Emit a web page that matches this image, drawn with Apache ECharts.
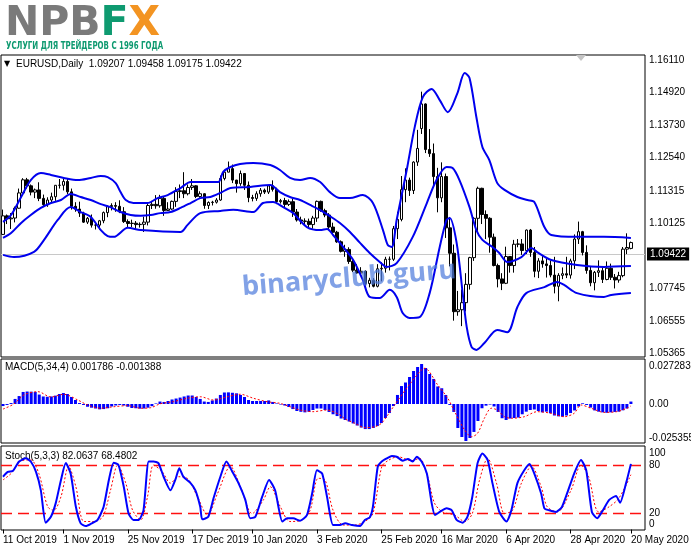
<!DOCTYPE html>
<html><head><meta charset="utf-8">
<script src="https://cdn.jsdelivr.net/npm/echarts@6.0.0/dist/echarts.min.js"></script>
<style>html,body{margin:0;padding:0;background:#fff;overflow:hidden}#chart{width:691px;height:549px}</style>
</head><body><div id="chart"></div>
<script>
// ---------- DATA ----------
const opens = [1.0972,1.1040,1.1029,1.1032,1.1068,1.1124,1.1172,1.1150,1.1127,1.1135,
1.1104,1.1081,1.1098,1.1110,1.1152,1.1152,1.1166,1.1128,1.1075,1.1065,
1.1050,1.1017,1.1031,1.1006,1.1006,1.1022,1.1052,1.1074,1.1078,1.1075,
1.1055,1.1019,1.1012,1.1013,1.1008,1.1009,1.1017,1.1078,1.1082,1.1077,
1.1104,1.1060,1.1065,1.1093,1.1129,1.1132,1.1121,1.1144,1.1150,1.1111,
1.1121,1.1078,1.1089,1.1090,1.1098,1.1177,1.1200,1.1213,1.1171,1.1158,
1.1195,1.1152,1.1107,1.1104,1.1121,1.1134,1.1127,1.1150,1.1137,1.1092,
1.1096,1.1082,1.1092,1.1054,1.1025,1.1021,1.1020,1.1008,1.1032,1.1093,
1.1059,1.1043,1.0999,1.0980,1.0945,1.0910,1.0917,1.0873,1.0841,1.0831,
1.0837,1.0792,1.0804,1.0782,1.0846,1.0848,1.0881,1.0881,1.0993,1.1027,
1.1136,1.1171,1.1133,1.1237,1.1360,1.1450,1.1283,1.1268,1.1184,1.1106,
1.1184,1.0996,1.0903,1.0689,1.0696,1.0722,1.0789,1.0887,1.1031,1.1141,
1.1045,1.1031,1.0962,1.0858,1.0809,1.0793,1.0891,1.0858,1.0936,1.0937,
1.0913,1.0988,1.0906,1.0837,1.0875,1.0864,1.0858,1.0823,1.0782,1.0822,
1.0828,1.0823,1.0875,1.0955,1.0982,1.0906,1.0840,1.0795,1.0833,1.0839,
1.0807,1.0848,1.0815,1.0805,1.0821,1.0918,1.09207];
const highs = [1.1063,1.1045,1.1050,1.1074,1.1140,1.1178,1.1179,1.1155,1.1140,1.1163,
1.1118,1.1108,1.1125,1.1153,1.1175,1.1176,1.1175,1.1140,1.1090,1.1092,
1.1055,1.1036,1.1045,1.1017,1.1025,1.1056,1.1078,1.1086,1.1090,1.1097,
1.1072,1.1027,1.1026,1.1021,1.1016,1.1037,1.1090,1.1095,1.1116,1.1117,
1.1110,1.1090,1.1096,1.1145,1.1155,1.1200,1.1155,1.1175,1.1152,1.1130,
1.1123,1.1093,1.1095,1.1105,1.1188,1.1205,1.1239,1.1228,1.1172,1.1206,
1.1197,1.1166,1.1117,1.1130,1.1142,1.1140,1.1154,1.1170,1.1143,1.1102,
1.1106,1.1100,1.1102,1.1065,1.1037,1.1031,1.1030,1.1040,1.1096,1.1096,
1.1066,1.1050,1.1015,1.0985,1.0950,1.0934,1.0925,1.0882,1.0863,1.0852,
1.0840,1.0813,1.0812,1.0863,1.0870,1.0890,1.0891,1.1003,1.1055,1.1186,
1.1214,1.1180,1.1240,1.1355,1.1495,1.1452,1.1358,1.1305,1.1216,1.1236,
1.1195,1.1036,1.0935,1.0765,1.0770,1.0830,1.0890,1.1035,1.1147,1.1143,
1.1060,1.1035,1.0975,1.0865,1.0830,1.0927,1.0893,1.0952,1.0955,1.0955,
1.0990,1.0992,1.0926,1.0885,1.0895,1.0885,1.0877,1.0890,1.0830,1.0851,
1.0890,1.0883,1.0972,1.1019,1.0985,1.0932,1.0855,1.0838,1.0877,1.0851,
1.0873,1.0865,1.0827,1.0835,1.0926,1.0976,1.09458];
const lows = [1.0970,1.1010,1.0992,1.1016,1.1066,1.1120,1.1140,1.1115,1.1105,1.1094,
1.1072,1.1073,1.1086,1.1095,1.1140,1.1133,1.1120,1.1063,1.1055,1.1036,
1.1014,1.1010,1.0997,1.0990,1.0989,1.1013,1.1035,1.1060,1.1055,1.1050,
1.1014,1.0998,1.0999,1.0990,1.0997,1.0981,1.1005,1.1065,1.1066,1.1070,
1.1040,1.1058,1.1062,1.1073,1.1105,1.1105,1.1115,1.1135,1.1105,1.1106,
1.1066,1.1065,1.1078,1.1085,1.1095,1.1170,1.1200,1.1160,1.1125,1.1150,
1.1135,1.1090,1.1093,1.1095,1.1110,1.1120,1.1120,1.1129,1.1083,1.1085,
1.1070,1.1076,1.1036,1.1019,1.1009,1.1005,1.0992,1.0993,1.1018,1.1055,
1.1035,1.0990,1.0970,1.0941,1.0906,1.0890,1.0864,1.0834,1.0828,1.0822,
1.0785,1.0778,1.0778,1.0778,1.0800,1.0832,1.0840,1.0875,1.0955,1.1020,
1.1090,1.1113,1.1120,1.1223,1.1340,1.1270,1.1256,1.1150,1.1053,1.1090,
1.0959,1.0855,1.0656,1.0674,1.0636,1.0690,1.0770,1.0875,1.0985,1.1010,
1.0955,1.0905,1.0855,1.0778,1.0768,1.0790,1.0832,1.0832,1.0925,1.0897,
1.0900,1.0890,1.0815,1.0812,1.0850,1.0814,1.0815,1.0756,1.0727,1.0808,
1.0812,1.0810,1.0845,1.0937,1.0895,1.0828,1.0782,1.0767,1.0816,1.0794,
1.0804,1.0805,1.0774,1.0795,1.0815,1.0900,1.09175];
const closes = [1.1040,1.1029,1.1032,1.1068,1.1124,1.1172,1.1150,1.1127,1.1135,1.1104,
1.1081,1.1098,1.1110,1.1152,1.1152,1.1166,1.1128,1.1075,1.1065,1.1050,
1.1017,1.1031,1.1006,1.1006,1.1022,1.1052,1.1074,1.1078,1.1075,1.1055,
1.1019,1.1012,1.1013,1.1008,1.1009,1.1017,1.1078,1.1082,1.1077,1.1104,
1.1060,1.1065,1.1093,1.1129,1.1132,1.1121,1.1144,1.1150,1.1111,1.1121,
1.1078,1.1089,1.1090,1.1098,1.1177,1.1200,1.1213,1.1171,1.1158,1.1195,
1.1152,1.1107,1.1104,1.1121,1.1134,1.1127,1.1150,1.1137,1.1092,1.1096,
1.1082,1.1092,1.1054,1.1025,1.1021,1.1020,1.1008,1.1032,1.1093,1.1059,
1.1043,1.0999,1.0980,1.0945,1.0910,1.0917,1.0873,1.0841,1.0831,1.0837,
1.0792,1.0804,1.0782,1.0846,1.0848,1.0881,1.0881,1.0993,1.1027,1.1136,
1.1171,1.1133,1.1237,1.1287,1.1450,1.1283,1.1268,1.1184,1.1106,1.1184,
1.0996,1.0903,1.0689,1.0696,1.0722,1.0789,1.0887,1.1031,1.1141,1.1045,
1.1031,1.0962,1.0858,1.0809,1.0793,1.0891,1.0858,1.0936,1.0937,1.0913,
1.0988,1.0906,1.0837,1.0875,1.0864,1.0858,1.0823,1.0782,1.0822,1.0828,
1.0823,1.0875,1.0955,1.0982,1.0906,1.0840,1.0795,1.0833,1.0839,1.0807,
1.0848,1.0815,1.0805,1.0821,1.0918,1.0924,1.09422];

// Bollinger bands read at points along the curves: [bar index, price]
const bbUpper = [[0,1.1018],[2,1.1043],[4.5,1.1109],[6.9,1.1171],[9.4,1.1197],[11.9,1.1190],[15.1,1.1179],[18.6,1.1171],[21.8,1.1179],[24.3,1.1186],[26,1.1182],[28,1.1160],[29.2,1.1127],[30.5,1.1098],[32.4,1.1087],[35.9,1.1087],[38.4,1.1105],[40.9,1.1116],[44.1,1.1142],[46.6,1.1164],[49,1.1164],[51.5,1.1164],[53.5,1.1164],[54.7,1.1201],[56.5,1.1219],[58.9,1.1230],[62.2,1.1234],[66.4,1.1226],[68.8,1.1208],[71.3,1.1179],[73.8,1.1171],[76.3,1.1179],[78.8,1.1164],[81.2,1.1127],[83.7,1.1105],[86.2,1.1105],[89.4,1.1116],[91.9,1.1087],[94.4,1.0988],[95.6,1.0933],[96.6,1.0926],[97.8,1.1025],[100.3,1.1208],[102.3,1.1366],[104.3,1.1475],[106.5,1.1505],[108.5,1.1464],[110.5,1.1420],[112.9,1.1490],[114.7,1.1563],[115.9,1.1545],[117.6,1.1402],[119.1,1.1292],[120.8,1.1245],[122.8,1.1160],[124.6,1.1135],[127.8,1.1109],[130.3,1.1098],[132,1.1091],[134.5,1.0999],[136.2,1.0970],[142.6,1.0963],[149.3,1.0963],[156,1.0959]];
const bbMiddle = [[0,1.0959],[2,1.0977],[4.5,1.1014],[6.9,1.1043],[9.4,1.1069],[11.9,1.1087],[14.4,1.1098],[16.8,1.1120],[19.3,1.1109],[21.8,1.1098],[24.3,1.1083],[26.7,1.1072],[29.2,1.1054],[31.7,1.1043],[34.2,1.1040],[36.7,1.1043],[39.1,1.1050],[41.6,1.1054],[44.1,1.1069],[46.6,1.1087],[49,1.1105],[51.5,1.1109],[54,1.1124],[56.5,1.1142],[61.4,1.1146],[66.4,1.1153],[68.8,1.1127],[71.3,1.1109],[73.8,1.1098],[76.3,1.1080],[78.8,1.1061],[81.2,1.1039],[83.7,1.1014],[86.2,1.0981],[88.7,1.0941],[91.1,1.0904],[93.6,1.0871],[95.3,1.0853],[97.8,1.0867],[101.8,1.0963],[105.3,1.1087],[107.7,1.1171],[110.2,1.1219],[111.7,1.1215],[113.4,1.1171],[115.9,1.1072],[117.6,1.0988],[119.1,1.0952],[121.6,1.0926],[123.3,1.0904],[125.3,1.0871],[128.8,1.0889],[131.3,1.0922],[132.7,1.0907],[136.2,1.0878],[142.6,1.0860],[149.3,1.0853],[156,1.0856]];
const bbLower = [[0,1.0897],[2.7,1.0889],[7.7,1.0908],[10.2,1.0952],[13.6,1.1025],[16.8,1.1072],[19.3,1.1054],[21.8,1.1036],[24.3,1.0988],[26,1.0966],[27.5,1.0963],[31,1.0996],[34.2,1.0988],[44.1,1.0981],[45.8,1.1006],[49,1.1050],[54,1.1058],[57.2,1.1062],[62.2,1.1054],[64.6,1.1087],[67.1,1.1091],[69.6,1.1072],[72.1,1.1050],[75.5,1.0999],[78.8,1.0988],[80.5,1.0992],[82,1.0970],[84.5,1.0926],[87,1.0878],[89.4,1.0805],[91.1,1.0743],[93.6,1.0739],[96.1,1.0769],[97.8,1.0743],[99.3,1.0684],[101,1.0666],[103.5,1.0669],[106,1.0757],[108.5,1.0926],[110.2,1.1025],[111,1.1032],[112.7,1.0941],[114.2,1.0757],[115.2,1.0633],[116.4,1.0560],[117.6,1.0549],[119.6,1.0574],[122.8,1.0622],[125.3,1.0614],[127.8,1.0706],[130,1.0757],[134.5,1.0779],[137.7,1.0798],[139.4,1.0787],[142.6,1.0757],[149.3,1.0743],[151.1,1.0750],[156,1.0757]];

// MACD(5,34,4) histogram per bar and signal line
const macdMain = [-0.0015,-0.0007,0.0007,0.0037,0.0058,0.0088,0.0091,0.0090,0.0088,0.0069,
0.0055,0.0053,0.0055,0.0061,0.0073,0.0080,0.0073,0.0051,0.0029,0.0007,
-0.0007,-0.0020,-0.0027,-0.0033,-0.0039,-0.0037,-0.0031,-0.0018,-0.0011,-0.0007,
-0.0011,-0.0020,-0.0029,-0.0031,-0.0034,-0.0033,-0.0027,-0.0016,0.0004,0.0018,
0.0015,0.0022,0.0033,0.0040,0.0047,0.0055,0.0062,0.0062,0.0051,0.0037,
0.0018,0.0015,0.0026,0.0040,0.0066,0.0084,0.0085,0.0082,0.0078,0.0066,
0.0051,0.0029,0.0022,0.0022,0.0022,0.0022,0.0026,0.0015,0.0004,-0.0004,
-0.0011,-0.0022,-0.0037,-0.0051,-0.0057,-0.0061,-0.0057,-0.0044,-0.0033,-0.0033,
-0.0044,-0.0058,-0.0075,-0.0088,-0.0106,-0.0117,-0.0128,-0.0142,-0.0157,-0.0172,
-0.0183,-0.0183,-0.0175,-0.0161,-0.0139,-0.0102,-0.0066,-0.0015,0.0066,0.0131,
0.0157,0.0197,0.0241,0.0270,0.0292,0.0263,0.0219,0.0183,0.0128,0.0115,
0.0066,-0.0007,-0.0058,-0.0175,-0.0241,-0.0270,-0.0248,-0.0204,-0.0124,-0.0031,
-0.0012,-0.0004,-0.0018,-0.0058,-0.0104,-0.0117,-0.0106,-0.0102,-0.0099,-0.0075,
-0.0056,-0.0044,-0.0040,-0.0051,-0.0061,-0.0056,-0.0068,-0.0084,-0.0090,-0.0093,
-0.0084,-0.0066,-0.0047,-0.0018,0.0005,-0.0007,-0.0026,-0.0047,-0.0056,-0.0061,
-0.0064,-0.0061,-0.0058,-0.0056,-0.0046,-0.0033,0.001786];
const macdSignal = [[0,-0.0037],[2.7,0],[5.2,0.0066],[8.7,0.0090],[11.9,0.0051],[15.1,0.0071],[18.6,0.0029],[21,-0.0007],[24.3,-0.0031],[27.5,-0.0020],[31,-0.0012],[34.2,-0.0031],[36.7,-0.0027],[39.1,0.0002],[42.3,0.0017],[45.8,0.0042],[49,0.0053],[52.3,0.0029],[55.7,0.0053],[59,0.0071],[62.2,0.0042],[65.6,0.0017],[68.8,0.0005],[71.3,-0.0020],[73.8,-0.0044],[77,-0.0056],[80.5,-0.0044],[83.7,-0.0080],[85,-0.0110],[87.4,-0.0141],[90,-0.0173],[92.4,-0.0166],[94,-0.0141],[95.6,-0.0080],[97.3,-0.0007],[101.5,0.0161],[104.8,0.0261],[108,0.0139],[110.5,0.0042],[112.2,-0.0056],[114.7,-0.0190],[116.4,-0.0239],[117.9,-0.0214],[119.6,-0.0104],[121.3,-0.0031],[122.8,-0.0044],[124.6,-0.0093],[126.3,-0.0104],[129.5,-0.0093],[132.7,-0.0056],[136.2,-0.0068],[139.4,-0.0093],[141.9,-0.0068],[143.6,-0.0007],[146.1,-0.0031],[149.3,-0.0061],[152.5,-0.0056],[155,-0.0031],[156,-0.001388]];

// Stochastic(5,3,3): main and signal, read at points along the lines
const stochMain = [[0,66],[1.2,72],[2.5,73.5],[4,85],[5.7,89],[6.9,85],[8.2,72],[9.4,49],[10.6,8.5],[11.9,16],[13.1,33],[14.4,62],[15.6,83],[16.8,70],[18.1,28.5],[19.3,7.7],[20.6,4.4],[21.8,7],[23.5,12],[25,28.5],[26.3,62],[27.5,83.5],[28.7,80.6],[30,53.5],[31.2,20],[32.4,12],[33.7,12],[34.9,24],[36.2,85],[37.4,85],[38.6,83],[39.9,66],[41.6,49],[42.8,62],[43.8,76.5],[44.8,66],[46.6,58],[47.8,49],[49,28.5],[49.5,12.7],[51,16],[52.3,39],[54,66],[55.5,85],[57,72],[58.5,58],[60.2,37],[61.4,14],[62.7,16],[64.4,41],[66.1,62],[67.6,49],[69.4,10],[70.6,14],[72.1,14],[73.8,11],[75.5,18],[76.8,45],[78,74],[79.3,70],[80.5,41],[82,5.6],[83.7,5.6],[85,7.7],[86.7,5.6],[88.7,4.4],[89.9,12],[91.1,15],[91.9,28.5],[93.1,78.5],[94.1,85],[95.4,89],[96.6,92],[97.8,91],[99.3,86],[100.6,88],[101.8,85],[102.8,91],[104,85],[105.3,70],[106.5,33],[107.3,18],[108.5,22],[110.2,26.5],[111.5,24],[112.7,12],[114.2,8.5],[115.4,16],[116.6,41],[117.9,83],[119.1,95],[120.4,87],[121.6,58],[123.3,22],[125.1,10],[126.3,24],[127.8,58],[129.5,74],[130.8,82],[132,70],[133.7,45],[134.5,26.5],[135.7,24],[137.4,22],[138.9,28.5],[141.9,70],[143.6,87],[144.9,74],[146.3,22],[147.6,14],[148.8,22],[150.6,37],[152.3,42],[153.3,33.5],[154.8,58],[156,82.0637]];
const stochSignal = [[0,62],[2,70],[4.5,86],[6.9,87],[8.9,70],[11.1,28.5],[12.6,24],[14.4,41],[16.3,79],[18.1,53.5],[20.1,10],[22.5,10],[24.8,16],[26.7,49],[28.5,80.6],[30.5,58],[32.2,24],[34.2,12],[35.9,41],[37.4,80.6],[39.6,72],[41.6,58],[43.6,66],[45.8,64],[48.3,41],[50.8,18],[53.3,45],[56.5,79],[59,53.5],[61.9,20],[64.7,37],[66.4,53.5],[68.9,28.5],[71.3,10],[74.3,12],[76.3,24],[78.3,64],[80,62],[82,24],[84.5,5.6],[87.4,5.6],[89.9,10],[91.9,20],[94.1,78.5],[95.6,86],[98.1,91],[101.5,86],[103.5,89],[105.5,66],[107.2,33],[109.2,22],[112.2,18],[114.7,10],[116.6,20],[118.4,62],[120.4,89],[122.6,58],[124.6,20],[126.6,24],[128.8,58],[131.3,79],[133.7,53.5],[135.2,28.5],[137.7,22],[141.1,49],[143.6,80.6],[145.5,66],[148,22],[150.6,28.5],[153,39],[156,68.4802]];

// axes
const labelDates = ['11 Oct 2019','1 Nov 2019','25 Nov 2019','17 Dec 2019','10 Jan 2020','3 Feb 2020','25 Feb 2020','16 Mar 2020','6 Apr 2020','28 Apr 2020','20 May 2020'];
const labelBars = [0,15,31,47,62,78,94,109,125,141,156];   // bars where the time scale prints them
const priceTicks = [1.16110,1.14920,1.13730,1.12540,1.11315,1.10125,1.08935,1.07745,1.06555,1.05365];
const macdTicks = [0.027283, 0, -0.025355];
const stochTickText = {95.5:'100', 80:'80', 20:'20', 7:'0'};   // scale labels, inset at the window edges
const stochLevels = [20, 80];
const header = 'EURUSD,Daily  1.09207 1.09458 1.09175 1.09422';
const macdTitle = 'MACD(5,34,4) 0.001786 -0.001388';
const stochTitle = 'Stoch(5,3,3) 82.0637 68.4802';

// ---------- categories (trading days) ----------
const months = ['Jan','Feb','Mar','Apr','May','Jun','Jul','Aug','Sep','Oct','Nov','Dec'];
const holidays = ['2019-12-25','2020-01-01'];
const NCAT = closes.length + 3;
const dates = [];
let dd = new Date(Date.UTC(2019, 9, 11));
while (dates.length < NCAT) {
  const wd = dd.getUTCDay(); const iso = dd.toISOString().slice(0, 10);
  if (wd !== 0 && wd !== 6 && holidays.indexOf(iso) < 0)
    dates.push(dd.getUTCDate() + ' ' + months[dd.getUTCMonth()] + ' ' + dd.getUTCFullYear());
  dd = new Date(dd.getTime() + 86400000);
}
const candles = opens.map((o, i) => [o, closes[i], lows[i], highs[i]]);
const last = closes[closes.length - 1];

const FONT = 'Liberation Sans, Arial, sans-serif';
const isLabel = (i) => labelBars.indexOf(i) >= 0;
const L = 1, R = 46;
const hiddenCat = (g) => ({type:'category', gridIndex:g, data:dates, boundaryGap:true,
  axisLine:{show:false}, axisTick:{show:false}, axisLabel:{show:false}, splitLine:{show:false}});
const overlayX = (g) => ({type:'value', gridIndex:g, min:-0.5, max:NCAT-0.5, show:false});
const lab = {color:'#000', fontSize:10, fontFamily:FONT, margin:4, showMinLabel:true, showMaxLabel:true, hideOverlap:false};

const chart = echarts.init(document.getElementById('chart'), null, {renderer:'canvas'});
chart.setOption({
  animation:false,
  backgroundColor:'#fff',
  grid:[
    {left:L, right:R, top:55, height:302, show:true, borderColor:'#000', borderWidth:1, outerBoundsMode:'none'},
    {left:L, right:R, top:359, height:84, show:true, borderColor:'#000', borderWidth:1, outerBoundsMode:'none'},
    {left:L, right:R, top:446, height:84, show:true, borderColor:'#000', borderWidth:1, outerBoundsMode:'none'}
  ],
  xAxis:[
    hiddenCat(0), hiddenCat(1),
    {type:'category', gridIndex:2, data:dates, boundaryGap:true, axisLine:{show:false},
     axisTick:{show:true, alignWithLabel:true, interval:isLabel, length:4, lineStyle:{color:'#000'}},
     axisLabel:{interval:isLabel, align:'left', margin:5, color:'#000', fontSize:10, fontFamily:FONT,
       formatter:(v, i) => labelDates[labelBars.indexOf(i)] || ''},
     splitLine:{show:false}},
    overlayX(0), overlayX(1), overlayX(2)
  ],
  yAxis:[
    {type:'value', gridIndex:0, position:'right', min:1.05229, max:1.16293, splitLine:{show:false},
     axisLine:{show:false}, axisTick:{show:false},
     axisLabel:Object.assign({}, lab, {customValues:priceTicks, formatter:v=>v.toFixed(5)})},
    {type:'value', gridIndex:1, position:'right', min:-0.02847, max:0.03285, splitLine:{show:false},
     axisLine:{show:false}, axisTick:{show:false},
     axisLabel:Object.assign({}, lab, {customValues:macdTicks, formatter:v=>v===0?'0.00':String(v)})},
    {type:'value', gridIndex:2, position:'right', min:-0.6, max:104.4,
     splitLine:{show:true, lineStyle:{color:'#ff1010', width:1.4, type:[11,6]}},
     axisLine:{show:false}, axisTick:{show:false, customValues:stochLevels},
     axisLabel:Object.assign({}, lab, {customValues:Object.keys(stochTickText).map(Number),
       formatter:v=>stochTickText[v] || ''})}
  ],
  series:[
    {type:'candlestick', xAxisIndex:0, yAxisIndex:0, data:candles, barWidth:3,
     itemStyle:{color:'#ffffff', color0:'#000000', borderColor:'#000000', borderColor0:'#000000', borderWidth:1},
     markLine:{silent:true, symbol:'none', z:1, animation:false,
       lineStyle:{color:'#c8c8c8', type:'solid', width:1},
       label:{position:'end', distance:2, formatter:last.toFixed(5), backgroundColor:'#000', color:'#fff',
              fontSize:10, fontFamily:FONT, padding:[2,3,1,3]},
       data:[{yAxis:last}]}},
    {type:'line', xAxisIndex:3, yAxisIndex:0, data:bbUpper, showSymbol:false, smooth:0.3, lineStyle:{color:'#0000ee', width:2}, z:3},
    {type:'line', xAxisIndex:3, yAxisIndex:0, data:bbMiddle, showSymbol:false, smooth:0.3, lineStyle:{color:'#0000ee', width:2}, z:3},
    {type:'line', xAxisIndex:3, yAxisIndex:0, data:bbLower, showSymbol:false, smooth:0.3, lineStyle:{color:'#0000ee', width:2}, z:3},
    {type:'bar', xAxisIndex:1, yAxisIndex:1, data:macdMain, barWidth:3, itemStyle:{color:'#0000ff'}},
    {type:'line', xAxisIndex:4, yAxisIndex:1, data:macdSignal, showSymbol:false, smooth:0.3, lineStyle:{color:'#ff0000', width:1, type:[2,2]}, z:3},
    {type:'line', xAxisIndex:5, yAxisIndex:2, data:stochSignal, showSymbol:false, smooth:0.3, lineStyle:{color:'#ff0000', width:1, type:[2,2]}, z:2},
    {type:'line', xAxisIndex:5, yAxisIndex:2, data:stochMain, showSymbol:false, smooth:0.2, lineStyle:{color:'#0000ff', width:2}, z:3}
  ],
  graphic:[
    {type:'text', x:5, y:4, style:{text:'{g|NPB}{gr|F}{o|X}', verticalAlign:'top',
      rich:{g:{fill:'#7a7a7a', fontSize:41, fontWeight:'bold', fontFamily:'DejaVu Sans'},
            gr:{fill:'#0e9a70', fontSize:41, fontWeight:'bold', fontFamily:'DejaVu Sans'},
            o:{fill:'#f39422', fontSize:41, fontWeight:'bold', fontFamily:'DejaVu Sans'}}}},
    {type:'text', x:6, y:41, scaleX:0.64, style:{text:'УСЛУГИ ДЛЯ ТРЕЙДЕРОВ С 1996 ГОДА', fill:'#0e9a70',
      fontSize:11, fontWeight:'bold', fontFamily:'DejaVu Sans', verticalAlign:'top'}},
    {type:'text', x:4, y:64, style:{text:'▼', fill:'#000', fontSize:8, fontFamily:'DejaVu Sans', verticalAlign:'middle'}},
    {type:'text', x:16, y:64, style:{text:header, fill:'#000', fontSize:10, fontFamily:FONT, verticalAlign:'middle'}},
    {type:'text', x:5, y:367, style:{text:macdTitle, fill:'#000', fontSize:10, fontFamily:FONT, verticalAlign:'middle'}},
    {type:'text', x:5, y:456, style:{text:stochTitle, fill:'#000', fontSize:10, fontFamily:FONT, verticalAlign:'middle'}},
    {type:'polygon', shape:{points:[[576,55],[586,55],[581,61]]}, style:{fill:'#c4c4c4'}},
    {type:'text', x:349, y:279, rotation:0.08, z:100, style:{text:'binaryclub.guru', fill:'rgba(80,125,220,0.72)',
      fontSize:27, fontWeight:'bold', fontFamily:'Open Sans', align:'center', verticalAlign:'middle'}}
  ]
});
</script></body></html>
